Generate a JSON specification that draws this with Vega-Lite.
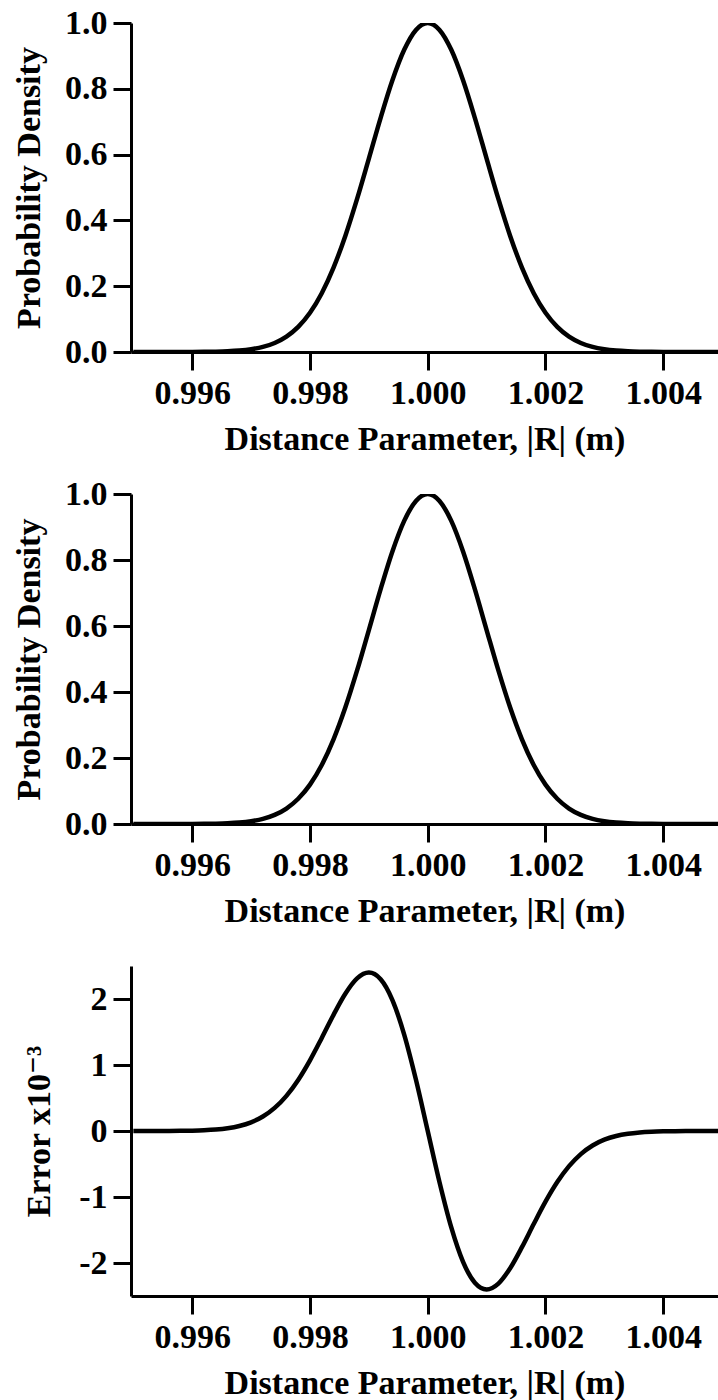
{
  "$schema": "https://vega.github.io/schema/vega-lite/v6.json",
  "padding": {"left": 12, "top": 6, "right": 0, "bottom": 0},
  "background": "white",
  "config": {
    "view": {"stroke": null},
    "font": "Liberation Serif",
    "axis": {
      "grid": false,
      "domainColor": "black",
      "domainWidth": 3,
      "tickColor": "black",
      "tickWidth": 3,
      "tickSize": 18,
      "labelFont": "Liberation Serif",
      "labelFontSize": 34,
      "labelFontWeight": "bold",
      "labelColor": "black",
      "titleFont": "'Liberation Serif', 'DejaVu Serif', serif",
      "titleFontSize": 34,
      "titleFontWeight": "bold",
      "titleColor": "black"
    }
  },
  "datasets": {
    "curve": [
      {"x": 0.9950, "density": 0.0000, "error": 0.0001},
      {"x": 0.9952, "density": 0.0000, "error": 0.0002},
      {"x": 0.9954, "density": 0.0000, "error": 0.0005},
      {"x": 0.9956, "density": 0.0000, "error": 0.0011},
      {"x": 0.9958, "density": 0.0001, "error": 0.0024},
      {"x": 0.9960, "density": 0.0002, "error": 0.0053},
      {"x": 0.9962, "density": 0.0005, "error": 0.0110},
      {"x": 0.9964, "density": 0.0010, "error": 0.0218},
      {"x": 0.9966, "density": 0.0021, "error": 0.0416},
      {"x": 0.9968, "density": 0.0043, "error": 0.0757},
      {"x": 0.9970, "density": 0.0084, "error": 0.1318},
      {"x": 0.9972, "density": 0.0155, "error": 0.2194},
      {"x": 0.9974, "density": 0.0275, "error": 0.3498},
      {"x": 0.9976, "density": 0.0468, "error": 0.5328},
      {"x": 0.9978, "density": 0.0764, "error": 0.7739},
      {"x": 0.9980, "density": 0.1193, "error": 1.0709},
      {"x": 0.9982, "density": 0.1788, "error": 1.4096},
      {"x": 0.9984, "density": 0.2566, "error": 1.7601},
      {"x": 0.9986, "density": 0.3529, "error": 2.0791},
      {"x": 0.9988, "density": 0.4653, "error": 2.3115},
      {"x": 0.9990, "density": 0.5878, "error": 2.4000},
      {"x": 0.9992, "density": 0.7117, "error": 2.2986},
      {"x": 0.9994, "density": 0.8259, "error": 1.9832},
      {"x": 0.9996, "density": 0.9185, "error": 1.4611},
      {"x": 0.9998, "density": 0.9790, "error": 0.7757},
      {"x": 1.0000, "density": 1.0000, "error": 0.0000},
      {"x": 1.0002, "density": 0.9790, "error": -0.7757},
      {"x": 1.0004, "density": 0.9185, "error": -1.4611},
      {"x": 1.0006, "density": 0.8259, "error": -1.9832},
      {"x": 1.0008, "density": 0.7117, "error": -2.2986},
      {"x": 1.0010, "density": 0.5878, "error": -2.4000},
      {"x": 1.0012, "density": 0.4653, "error": -2.3115},
      {"x": 1.0014, "density": 0.3529, "error": -2.0791},
      {"x": 1.0016, "density": 0.2566, "error": -1.7601},
      {"x": 1.0018, "density": 0.1788, "error": -1.4096},
      {"x": 1.0020, "density": 0.1193, "error": -1.0709},
      {"x": 1.0022, "density": 0.0764, "error": -0.7739},
      {"x": 1.0024, "density": 0.0468, "error": -0.5328},
      {"x": 1.0026, "density": 0.0275, "error": -0.3498},
      {"x": 1.0028, "density": 0.0155, "error": -0.2194},
      {"x": 1.0030, "density": 0.0084, "error": -0.1318},
      {"x": 1.0032, "density": 0.0043, "error": -0.0757},
      {"x": 1.0034, "density": 0.0021, "error": -0.0416},
      {"x": 1.0036, "density": 0.0010, "error": -0.0218},
      {"x": 1.0038, "density": 0.0005, "error": -0.0110},
      {"x": 1.0040, "density": 0.0002, "error": -0.0053},
      {"x": 1.0042, "density": 0.0001, "error": -0.0024},
      {"x": 1.0044, "density": 0.0000, "error": -0.0011},
      {"x": 1.0046, "density": 0.0000, "error": -0.0005},
      {"x": 1.0048, "density": 0.0000, "error": -0.0002},
      {"x": 1.0050, "density": 0.0000, "error": -0.0001}
    ]
  },
  "bounds": "flush",
  "spacing": 142,
  "vconcat": [
    {
      "width": 587,
      "height": 329,
      "data": {"name": "curve"},
      "mark": {"type": "line", "color": "black", "strokeWidth": 4.5, "interpolate": "monotone", "clip": true},
      "encoding": {
        "x": {"field": "x", "type": "quantitative", "scale": {"domain": [0.99496, 1.00493], "nice": false, "zero": false},
              "axis": {"values": [0.996, 0.998, 1.0, 1.002, 1.004], "format": ".3f", "title": "Distance Parameter, |R| (m)", "labelPadding": 6, "titlePadding": 12}},
        "y": {"field": "density", "type": "quantitative", "scale": {"domain": [0, 1], "nice": false},
              "axis": {"values": [0, 0.2, 0.4, 0.6, 0.8, 1.0], "format": ".1f", "title": "Probability Density", "labelPadding": 6, "titlePadding": 18}}
      }
    },
    {
      "width": 587,
      "height": 330,
      "data": {"name": "curve"},
      "mark": {"type": "line", "color": "black", "strokeWidth": 4.5, "interpolate": "monotone", "clip": true},
      "encoding": {
        "x": {"field": "x", "type": "quantitative", "scale": {"domain": [0.99496, 1.00493], "nice": false, "zero": false},
              "axis": {"values": [0.996, 0.998, 1.0, 1.002, 1.004], "format": ".3f", "title": "Distance Parameter, |R| (m)", "labelPadding": 6, "titlePadding": 12}},
        "y": {"field": "density", "type": "quantitative", "scale": {"domain": [0, 1], "nice": false},
              "axis": {"values": [0, 0.2, 0.4, 0.6, 0.8, 1.0], "format": ".1f", "title": "Probability Density", "labelPadding": 6, "titlePadding": 18}}
      }
    },
    {
      "width": 587,
      "height": 330,
      "data": {"name": "curve"},
      "mark": {"type": "line", "color": "black", "strokeWidth": 4.5, "interpolate": "monotone", "clip": true},
      "encoding": {
        "x": {"field": "x", "type": "quantitative", "scale": {"domain": [0.99496, 1.00493], "nice": false, "zero": false},
              "axis": {"values": [0.996, 0.998, 1.0, 1.002, 1.004], "format": ".3f", "title": "Distance Parameter, |R| (m)", "labelPadding": 6, "titlePadding": 12}},
        "y": {"field": "error", "type": "quantitative", "scale": {"domain": [-2.5, 2.5], "nice": false},
              "axis": {"values": [-2, -1, 0, 1, 2], "labelExpr": "datum.value < 0 ? '-' + format(-datum.value, 'd') : format(datum.value, 'd')", "title": "Error x10⁻³", "labelPadding": 6, "titlePadding": 22}}
      }
    }
  ]
}
